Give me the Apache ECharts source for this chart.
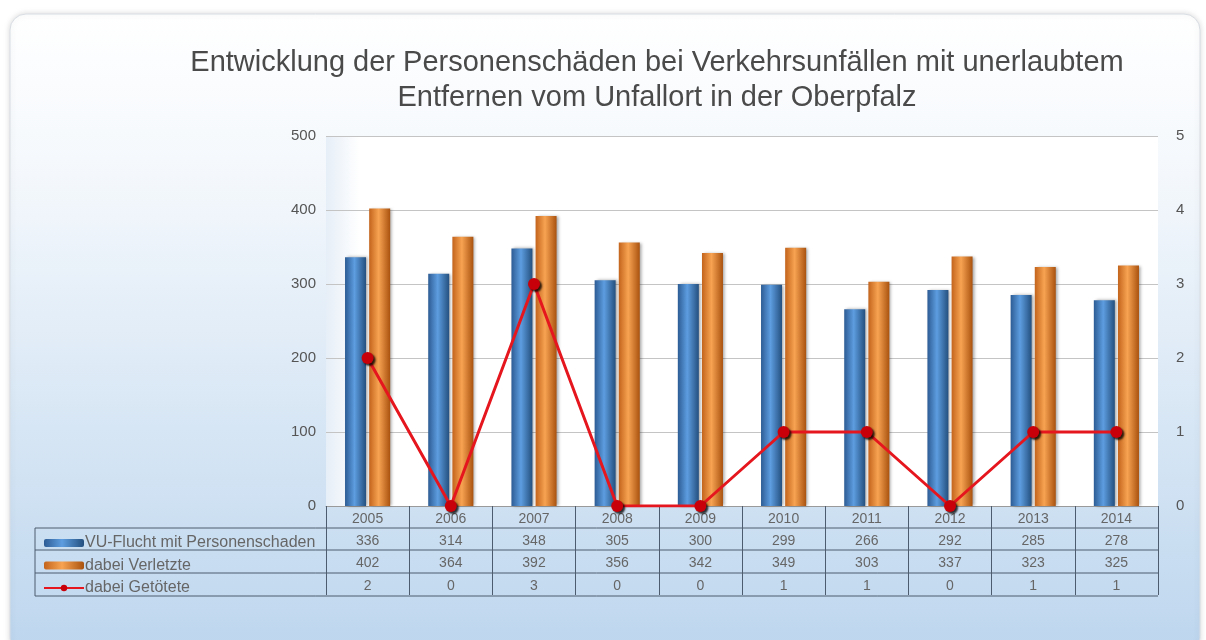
<!DOCTYPE html>
<html>
<head>
<meta charset="utf-8">
<script src="https://cdn.jsdelivr.net/npm/echarts@6/dist/echarts.min.js"></script>
<style>
  html, body { margin: 0; padding: 0; background: #fff; }
  #main { width: 1206px; height: 640px; }
</style>
</head>
<body>
<div id="main"></div>
<script>
var chart = echarts.init(document.getElementById('main'));

// Daten aus der Tabelle
var years = ['2005', '2006', '2007', '2008', '2009', '2010', '2011', '2012', '2013', '2014'];
var flucht = [336, 314, 348, 305, 300, 299, 266, 292, 285, 278];
var verletzte = [402, 364, 392, 356, 342, 349, 303, 337, 323, 325];
var getoetete = [2, 0, 3, 0, 0, 1, 1, 0, 1, 1];
var seriesNames = ['VU-Flucht mit Personenschaden', 'dabei Verletzte', 'dabei Getötete'];

var tableColor = '#4d5c6e';
var txtColor = '#666';

function rowAxis(data, offset) {
    return {
        type: 'category',
        data: data.map(String),
        position: 'bottom',
        offset: offset,
        axisLine: { show: false },
        axisTick: { show: false },
        axisLabel: { color: txtColor, fontSize: 14, margin: 5 }
    };
}

// Tabellenlinien
var hLines = [528, 550, 573, 596].map(function (y) {
    return { type: 'line', shape: { x1: 35, y1: y, x2: 1158, y2: y }, style: { stroke: tableColor, lineWidth: 1 } };
});

option = {
    textStyle: { fontFamily: 'Liberation Sans' },
    title: {
        text: 'Entwicklung der Personenschäden bei Verkehrsunfällen mit unerlaubtem\nEntfernen vom Unfallort in der Oberpfalz',
        left: 652,
        textAlign: 'center',
        top: 40,
        textStyle: { fontSize: 29, fontWeight: 'normal', color: '#4a4a4a', lineHeight: 35, fontFamily: 'Liberation Sans' }
    },
    graphic: [
        {
            type: 'rect', z: -10,
            shape: { x: 10, y: 14, width: 1190, height: 640, r: 16 },
            style: {
                fill: new echarts.graphic.LinearGradient(0, 0, 0, 1, [
                    { offset: 0, color: '#ffffff' },
                    { offset: 0.25, color: '#f4f8fc' },
                    { offset: 1, color: '#bdd6ee' }
                ]),
                stroke: '#d8dde3', lineWidth: 1,
                shadowBlur: 6, shadowColor: 'rgba(0,0,0,0.15)'
            }
        },
        { type: 'line', shape: { x1: 35, y1: 528, x2: 35, y2: 596 }, style: { stroke: tableColor, lineWidth: 1 } }
    ].concat(hLines),
    legend: {
        orient: 'vertical',
        left: 38,
        top: 530,
        itemWidth: 40,
        itemHeight: 8,
        itemGap: 6.5,
        data: seriesNames,
        textStyle: { color: txtColor, fontSize: 16, padding: [0, 0, 0, -4] }
    },
    grid: {
        left: 326, right: 48, top: 136, bottom: 134,
        show: true,
        backgroundColor: new echarts.graphic.LinearGradient(0, 0, 1, 0, [
            { offset: 0, color: '#e6eef7' },
            { offset: 0.04, color: '#ffffff' },
            { offset: 1, color: '#ffffff' }
        ]),
        borderWidth: 0
    },
    xAxis: [
        {
            type: 'category',
            data: years,
            axisLine: { lineStyle: { color: '#9a9a9a' } },
            axisTick: { show: true, length: 89, lineStyle: { color: tableColor } },
            axisLabel: { color: txtColor, fontSize: 14, margin: 6 }
        },
        rowAxis(flucht, 23),
        rowAxis(verletzte, 45),
        rowAxis(getoetete, 68)
    ],
    yAxis: [
        {
            type: 'value', min: 0, max: 500, interval: 100,
            axisLine: { show: false },
            axisTick: { show: false },
            axisLabel: { color: '#555', fontSize: 15, margin: 10 },
            splitLine: { lineStyle: { color: '#c4c4c4' } }
        },
        {
            type: 'value', min: 0, max: 5, interval: 1,
            axisLine: { show: false },
            axisTick: { show: false },
            axisLabel: { color: '#555', fontSize: 15, margin: 18 },
            splitLine: { show: false }
        }
    ],
    series: [
        {
            name: seriesNames[0],
            type: 'bar',
            data: flucht,
            barWidth: 21,
            barGap: '15%',
            itemStyle: {
                color: new echarts.graphic.LinearGradient(0, 0, 1, 0, [
                    { offset: 0, color: '#2d5c94' },
                    { offset: 0.45, color: '#5d9de0' },
                    { offset: 1, color: '#24507f' }
                ]),
                shadowBlur: 3, shadowOffsetX: 2, shadowColor: 'rgba(0,0,0,0.35)'
            }
        },
        {
            name: seriesNames[1],
            type: 'bar',
            data: verletzte,
            barWidth: 21,
            itemStyle: {
                color: new echarts.graphic.LinearGradient(0, 0, 1, 0, [
                    { offset: 0, color: '#c3641c' },
                    { offset: 0.45, color: '#f7a352' },
                    { offset: 1, color: '#a9520f' }
                ]),
                shadowBlur: 3, shadowOffsetX: 2, shadowColor: 'rgba(0,0,0,0.35)'
            }
        },
        {
            name: seriesNames[2],
            type: 'line',
            yAxisIndex: 1,
            data: getoetete,
            symbol: 'circle',
            symbolSize: 12,
            z: 5,
            lineStyle: { color: '#e5161d', width: 3 },
            itemStyle: {
                color: '#c8000a',
                shadowBlur: 2, shadowOffsetX: 2, shadowOffsetY: 2, shadowColor: 'rgba(0,0,0,0.8)'
            }
        }
    ]
};

chart.setOption(option);
</script>
</body>
</html>
